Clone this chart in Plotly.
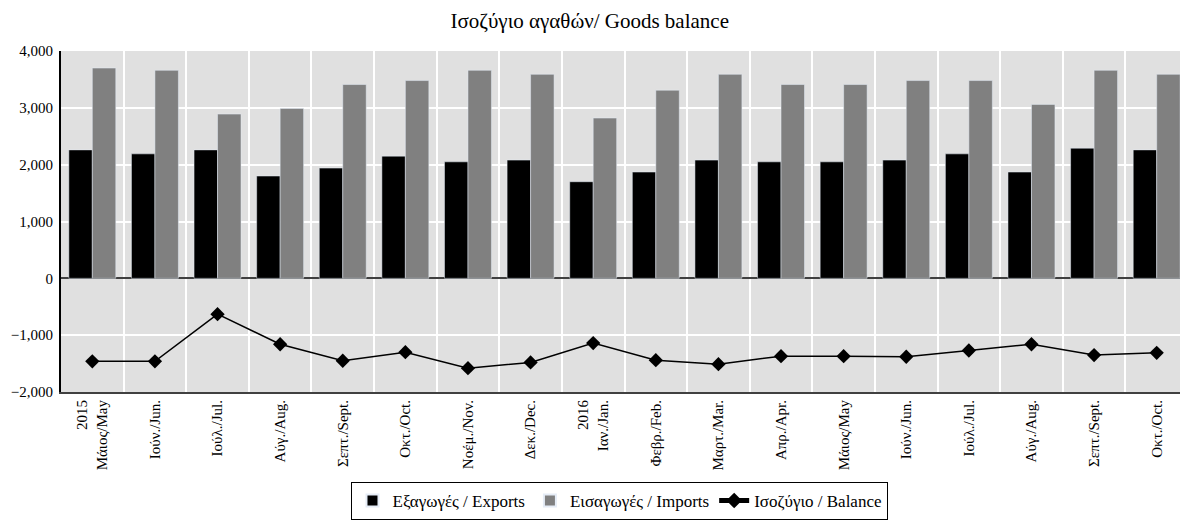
import plotly.graph_objects as go

months = [
    "2015<br>Μάιος/May", "Ιούν./Jun.", "Ιούλ./Jul.", "Αύγ./Aug.", "Σεπτ./Sept.", "Οκτ./Oct.",
    "Νοέμ./Nov.", "Δεκ./Dec.", "2016<br>Ιαν./Jan.", "Φεβρ./Feb.", "Μαρτ./Mar.", "Απρ./Apr.",
    "Μάιος/May", "Ιούν./Jun.", "Ιούλ./Jul.", "Αύγ./Aug.", "Σεπτ./Sept.", "Οκτ./Oct.",
]
exports = [2260, 2190, 2260, 1800, 1940, 2150, 2050, 2080, 1700,
           1870, 2080, 2050, 2050, 2080, 2190, 1870, 2290, 2260]
imports = [3700, 3660, 2890, 2990, 3410, 3480, 3660, 3590, 2820,
           3310, 3590, 3410, 3410, 3480, 3480, 3060, 3660, 3590]
balance = [-1460, -1460, -630, -1160, -1450, -1300, -1580, -1480, -1140,
           -1440, -1510, -1370, -1370, -1380, -1270, -1160, -1350, -1310]

x = list(range(len(months)))
serif = "Liberation Serif"

fig = go.Figure()
fig.add_trace(go.Bar(x=x, y=exports, name="Εξαγωγές / Exports", marker_color="#000000"))
fig.add_trace(go.Bar(x=x, y=imports, name="Εισαγωγές / Imports", marker_color="#808080"))
fig.add_trace(go.Scatter(
    x=x, y=balance, name="Ισοζύγιο / Balance", mode="lines+markers",
    line=dict(color="#000000", width=1.5),
    marker=dict(symbol="diamond", size=11, color="#000000"),
))

# the page body has an 8px margin, so the figure is sized to fit the window
fig.update_layout(
    width=1180, height=512,
    margin=dict(l=53, r=0, t=43, b=128, autoexpand=False),
    title=dict(text="Ισοζύγιο αγαθών/ Goods balance", x=0.493, xanchor="center",
               y=0.976, yanchor="middle",
               font=dict(family=serif, size=21, color="#000000")),
    font=dict(family=serif, size=15, color="#000000"),
    plot_bgcolor="#e0e0e0",
    paper_bgcolor="#ffffff",
    barmode="group",
    bargap=0.25,
    bargroupgap=0,
    showlegend=True,
    legend=dict(orientation="h", x=0.496, xanchor="center",
                yref="container", y=0.0, yanchor="bottom",
                bordercolor="#000000", borderwidth=1,
                font=dict(family=serif, size=17),
                itemsizing="constant", traceorder="normal"),
    xaxis=dict(
        range=[-0.5, len(months) - 0.5],
        tickvals=x, ticktext=months, tickangle=-90,
        showgrid=False, zeroline=False, ticks="",
        showline=True, linecolor="#404040", linewidth=2,
        minor=dict(tickvals=[i + 0.5 for i in x[:-1]], showgrid=True,
                   gridcolor="#ffffff", gridwidth=2),
        tickfont=dict(family=serif, size=15),
    ),
    yaxis=dict(
        range=[-2000, 4000], dtick=1000, tickformat=",",
        showgrid=True, gridcolor="#ffffff", gridwidth=2,
        zeroline=True, zerolinecolor="#404040", zerolinewidth=2,
        showline=True, linecolor="#000000", linewidth=2,
        ticks="", ticklabelstandoff=3, tickfont=dict(family=serif, size=15),
    ),
)

fig.write_html("out.html")
